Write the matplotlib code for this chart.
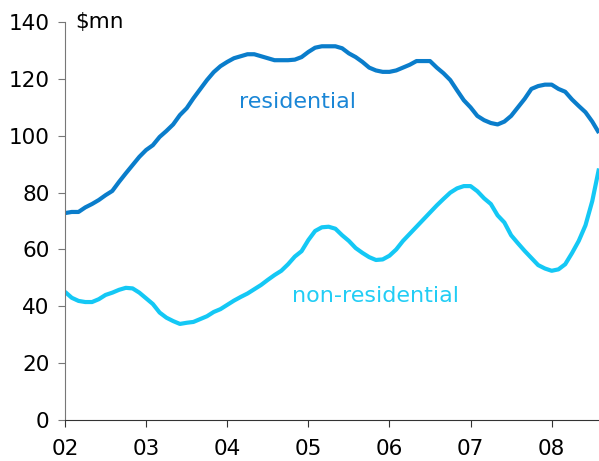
import matplotlib.pyplot as plt
import numpy as np

# monthly series, Jan 2002 onwards ($mn)
residential = [
    72.8, 73.2, 73.2, 74.8, 76.0, 77.4, 79.1, 80.6, 83.8, 86.8, 89.7, 92.6,
    95.0, 96.7, 99.6, 101.7, 104.0, 107.3, 109.7, 113.2, 116.4, 119.6, 122.4, 124.5,
    126.0, 127.3, 128.0, 128.7, 128.7, 128.0, 127.3, 126.6, 126.6, 126.6, 126.8, 127.7,
    129.5, 131.0, 131.5, 131.5, 131.5, 130.8, 129.0, 127.7, 126.0, 124.0, 123.0, 122.5,
    122.5, 123.0, 124.0, 125.0, 126.3, 126.3, 126.3, 124.0, 122.0, 119.6, 116.0, 112.5,
    110.0, 107.0, 105.5, 104.5, 104.0, 105.0, 107.0, 110.0, 113.0, 116.5, 117.5, 118.0,
    118.0, 116.5, 115.5, 112.8, 110.5, 108.3, 105.0, 101.0,
]
non_residential = [
    45.1, 43.0, 41.9, 41.5, 41.5, 42.5, 44.0, 44.8, 45.8, 46.5, 46.3, 44.8,
    42.8, 40.8, 37.8, 36.0, 34.8, 33.8, 34.2, 34.5, 35.5, 36.5, 38.0, 39.0,
    40.5, 42.0, 43.3, 44.5, 46.0, 47.5, 49.3, 51.0, 52.5, 54.8, 57.5, 59.4,
    63.3, 66.5, 67.8, 68.0, 67.3, 65.0, 63.0, 60.5, 58.8, 57.3, 56.3, 56.5,
    57.8, 60.0, 63.0, 65.5, 68.0, 70.5, 73.0, 75.5, 77.8, 80.0, 81.5, 82.3,
    82.3, 80.5, 78.0, 76.0, 72.0, 69.5, 65.0, 62.2, 59.5, 57.0, 54.5, 53.3,
    52.5, 53.0, 54.8, 58.7, 63.0, 68.5, 77.0, 88.5,
]
year_labels = ["02", "03", "04", "05", "06", "07", "08"]

dark_blue = "#0a7dcb"
light_blue = "#14c8f5"

t = 2002 + np.arange(len(residential)) / 12.0

fig = plt.figure(figsize=(5.99, 4.61), dpi=100)
ax = fig.add_axes([0.1085, 0.089, 0.8915, 0.863])

ax.plot(t, residential, color=dark_blue, lw=3.0, solid_capstyle="butt")
ax.plot(t, non_residential, color=light_blue, lw=3.0, solid_capstyle="butt")

ax.set_xlim(2002, t[-1])
ax.set_ylim(0, 140)
ax.set_yticks(range(0, 141, 20))
ax.set_xticks(range(2002, 2009))
ax.set_xticklabels(year_labels)

for side in ["top", "right"]:
    ax.spines[side].set_visible(False)
ax.spines["left"].set_color("#777777")
ax.spines["bottom"].set_color("#333333")
ax.tick_params(axis="y", direction="out", length=5, color="#777777",
               labelsize=15.5, pad=6)
ax.tick_params(axis="x", direction="out", length=5, color="#333333",
               labelsize=15.5, pad=9)

ax.text(0.02, 1.0, "$mn", transform=ax.transAxes, fontsize=15.5,
        va="center", ha="left")
ax.text(2004.15, 112, "residential", color="#1a86d6", fontsize=16,
        va="center", ha="left")
ax.text(2004.8, 43.6, "non-residential", color="#22cdf5", fontsize=16,
        va="center", ha="left")

fig.savefig("out.png", dpi=100)
